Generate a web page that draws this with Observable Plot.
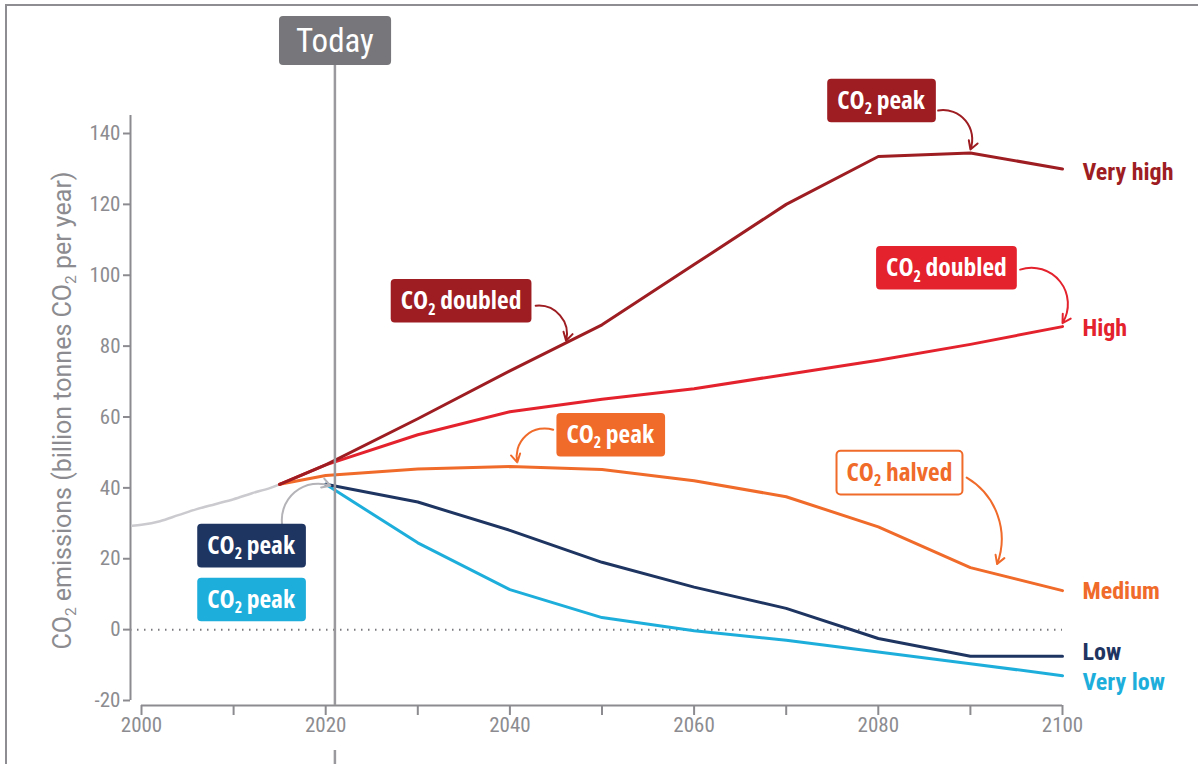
<!DOCTYPE html>
<html>
<head>
<meta charset="utf-8">
<script src="https://cdn.jsdelivr.net/npm/d3@7"></script>
<script src="https://cdn.jsdelivr.net/npm/@observablehq/plot@0.6"></script>
<style>
  html, body { margin: 0; padding: 0; background: #fff; }
  #wrap { position: relative; width: 1198px; height: 764px; overflow: hidden; }
  #frame { position: absolute; left: 5px; top: 4px; right: -10px; bottom: -10px;
           border-top: 2px solid #8e8e92; border-left: 2px solid #8e8e92; pointer-events: none; }
  #wrap svg { position: absolute; left: 0; top: 0; }
  #wrap svg text { font-stretch: 75%; }
  #wrap svg g[aria-description="annotation"] text { font-stretch: 80%; }
  #wrap svg g[aria-description="series-label"] text { font-stretch: 85%; }
  #wrap svg g[aria-description="ylabel"] text { font-stretch: 100%; }
</style>
</head>
<body>
<div id="wrap"><div id="frame"></div></div>
<script>
// ---------- data ----------
const histYears  = [1999, 2000, 2002, 2004, 2006, 2008, 2010, 2012, 2014, 2015];
const histValues = [29.3, 29.6, 30.6, 32.3, 34, 35.4, 36.8, 38.5, 40, 41];

const years      = [2015, 2020, 2030, 2040, 2050, 2060, 2070, 2080, 2090, 2100];
const veryHigh   = [41, 46.5, 59.5, 73, 86, 103, 120, 133.5, 134.5, 130];
const high       = [41, 46.5, 55, 61.5, 65, 68, 72, 76, 80.5, 85.5];
const medium     = [41, 43.5, 45.3, 46, 45.2, 42, 37.5, 29, 17.5, 11];
const lowYears   = [2020, 2030, 2040, 2050, 2060, 2070, 2080, 2090, 2100];
const low        = [41, 36, 28, 19, 12, 6, -2.5, -7.5, -7.5];
const veryLow    = [41, 24.5, 11.3, 3.4, -0.3, -3, -6.3, -9.6, -13];

const seriesNames  = ["Very high", "High", "Medium", "Low", "Very low"];
const seriesColors = ["#9d1d22", "#e3222d", "#f06a2a", "#1e3461", "#1eaedb"];

const xTicks = [2000, 2010, 2020, 2030, 2040, 2050, 2060, 2070, 2080, 2090, 2100];
const yTicks = [-20, 0, 20, 40, 60, 80, 100, 120, 140];
const today = 2021;
const yLabel = "CO₂ emissions (billion tonnes CO₂ per year)";

// ---------- annotations (box centre + arrow, in data units) ----------
const annotations = [
  {text: "CO₂ peak",    x: 2080.3, y: 149.3, fill: "#9d1d22", color: "#fff", border: null},
  {text: "CO₂ doubled", x: 2034.7, y: 92.8,  fill: "#9d1d22", color: "#fff", border: null},
  {text: "CO₂ doubled", x: 2087.4, y: 102.1, fill: "#e3222d", color: "#fff", border: null},
  {text: "CO₂ peak",    x: 2050.9, y: 55.0,  fill: "#f06a2a", color: "#fff", border: null},
  {text: "CO₂ halved",  x: 2082.3, y: 44.3,  fill: "#fff",    color: "#f06a2a", border: "#f06a2a"},
  {text: "CO₂ peak",    x: 2011.9, y: 23.7,  fill: "#1e3461", color: "#fff", border: null},
  {text: "CO₂ peak",    x: 2011.9, y: 8.5,   fill: "#1eaedb", color: "#fff", border: null}
];
const arrows = [
  {x1: 2086.5, y1: 146.5, x2: 2090,   y2: 135.5, bend: 60, color: "#9d1d22"},
  {x1: 2042.8, y1: 91.4,  x2: 2046.1, y2: 81.5,  bend: 55, color: "#9d1d22"},
  {x1: 2095.4, y1: 101.6, x2: 2100,   y2: 86.5,  bend: 70, color: "#e3222d"},
  {x1: 2044.7, y1: 56.4,  x2: 2040.8, y2: 47.2,  bend: -60, color: "#f06a2a"},
  {x1: 2089.6, y1: 42.9,  x2: 2092.9, y2: 18.5,  bend: 40, color: "#f06a2a"},
  {x1: 2015.3, y1: 29.1,  x2: 2020.5, y2: 40.6,  bend: 60, color: "#b4b4b8"}
];

// ---------- build tables ----------
const hist = histYears.map((yr, i) => ({year: yr, value: histValues[i]}));
const seriesData = [
  {name: seriesNames[0], color: seriesColors[0], pts: years.map((yr, i) => ({year: yr, value: veryHigh[i]}))},
  {name: seriesNames[1], color: seriesColors[1], pts: years.map((yr, i) => ({year: yr, value: high[i]}))},
  {name: seriesNames[2], color: seriesColors[2], pts: years.map((yr, i) => ({year: yr, value: medium[i]}))},
  {name: seriesNames[3], color: seriesColors[3], pts: lowYears.map((yr, i) => ({year: yr, value: low[i]}))},
  {name: seriesNames[4], color: seriesColors[4], pts: lowYears.map((yr, i) => ({year: yr, value: veryLow[i]}))}
];
const labelDy = [3, 2, 1, -4, 7];

const FONT_A = "Roboto, sans-serif";
const FONT_B = "'Open Sans', Roboto, sans-serif";
const GREY = "#8c8c90";

const lineMarks = [...seriesData].reverse().map(s =>
  Plot.line(s.pts, {x: "year", y: "value", stroke: s.color, strokeWidth: 3})
);
const endLabels = seriesData.map((s, i) =>
  Plot.text([s.pts[s.pts.length - 1]], {
    x: "year", y: "value", text: () => s.name, fill: s.color,
    dx: 20, dy: labelDy[i], textAnchor: "start", fontSize: 24, fontWeight: "bold", fontFamily: FONT_A,
    ariaDescription: "series-label"
  })
);
const arrowMarks = arrows.map(a =>
  Plot.arrow([a], {x1: "x1", y1: "y1", x2: "x2", y2: "y2", bend: a.bend,
                   stroke: a.color, strokeWidth: 2, headLength: 7})
);

const chart = Plot.plot({
  width: 1198,
  height: 764,
  marginLeft: 130,
  marginRight: 136,
  marginTop: 133,
  marginBottom: 59,
  insetLeft: 11,
  insetBottom: 5,
  style: {fontFamily: FONT_A, fontSize: "20px", color: GREY, background: "transparent", overflow: "visible"},
  x: {domain: [2000, 2100]},
  y: {domain: [-20, 140]},
  marks: [
    Plot.ruleY([0], {stroke: "#7a7a7e", strokeWidth: 2, strokeDasharray: "1.5,5.5"}),
    Plot.ruleX([2000], {dx: -11, insetTop: -18, insetBottom: 5, stroke: GREY, strokeWidth: 2}),
    Plot.ruleY([-20], {x1: 2000, x2: 2100, dy: 5, stroke: GREY, strokeWidth: 2}),
    Plot.axisY({ticks: yTicks, tickSize: 7, tickPadding: 3, strokeWidth: 2, label: null,
                fontSize: 21, fontFamily: FONT_A, tickFormat: d => String(d)}),
    Plot.axisX({ticks: xTicks, tickSize: 10, tickPadding: 2, strokeWidth: 2, label: null,
                fontSize: 21, fontFamily: FONT_A, tickFormat: d => d % 20 === 0 ? String(d) : ""}),
    Plot.text([yLabel], {frameAnchor: "left", textAnchor: "middle", rotate: -90, dx: -68, dy: -9,
                         fontSize: 25, fontFamily: FONT_A, fill: GREY, text: d => d,
                         ariaDescription: "ylabel"}),
    Plot.line(hist, {x: "year", y: "value", stroke: "#cbcbcf", strokeWidth: 2.5, curve: "monotone-x"}),
    ...lineMarks,
    Plot.ruleX([today], {insetTop: -68, stroke: "#9a9a9e", strokeWidth: 2.5}),
    Plot.ruleX([today], {insetTop: 617, insetBottom: -59, stroke: "#9a9a9e", strokeWidth: 2.5}),
    ...arrowMarks,
    Plot.text(annotations, {x: "x", y: "y", text: "text", fill: "color", fontSize: 25.5,
                            fontWeight: "bold", fontFamily: FONT_B, ariaDescription: "annotation"}),
    Plot.text([today], {x: d => d, frameAnchor: "top", lineAnchor: "middle", dy: -92, text: () => "Today",
                        fill: "#fff", fontSize: 33, fontFamily: FONT_A, ariaDescription: "today-label"}),
    ...endLabels
  ]
});

document.getElementById("wrap").appendChild(chart);

// ---------- post: subscripts and label boxes ----------
const NS = "http://www.w3.org/2000/svg";
function subscriptify(el) {
  const t = el.textContent;
  if (!t.includes("₂")) return;
  const fs = parseFloat(getComputedStyle(el).fontSize) || 20;
  const shift = (fs * 0.22).toFixed(1);
  while (el.firstChild) el.removeChild(el.firstChild);
  const parts = t.split("₂");
  parts.forEach((p, i) => {
    if (i === 0) {
      el.appendChild(document.createTextNode(p));
    } else {
      const s = document.createElementNS(NS, "tspan");
      s.setAttribute("font-size", (fs * 0.62).toFixed(1));
      s.setAttribute("dy", shift);
      s.textContent = "2";
      el.appendChild(s);
      const r = document.createElementNS(NS, "tspan");
      r.setAttribute("dy", "-" + shift);
      r.textContent = p;
      el.appendChild(r);
    }
  });
}
chart.querySelectorAll("text").forEach(subscriptify);

function boxify(desc, data, padX, padY) {
  const g = chart.querySelector('g[aria-description="' + desc + '"]');
  if (!g) return;
  const texts = g.querySelectorAll("text");
  texts.forEach((t, i) => {
    const d = data[i];
    const bb = t.getBBox();
    const rect = document.createElementNS(NS, "rect");
    rect.setAttribute("x", bb.x - padX);
    rect.setAttribute("y", bb.y - padY);
    rect.setAttribute("width", bb.width + 2 * padX);
    rect.setAttribute("height", bb.height + 2 * padY);
    rect.setAttribute("rx", 4);
    rect.setAttribute("fill", d.fill);
    if (d.border) { rect.setAttribute("stroke", d.border); rect.setAttribute("stroke-width", 2); }
    const tr = t.getAttribute("transform");
    if (tr) rect.setAttribute("transform", tr);
    t.parentNode.insertBefore(rect, t);
  });
}
boxify("annotation", annotations, 10, 3);
boxify("today-label", [{fill: "#77777b"}], 17, 5);
</script>
</body>
</html>
